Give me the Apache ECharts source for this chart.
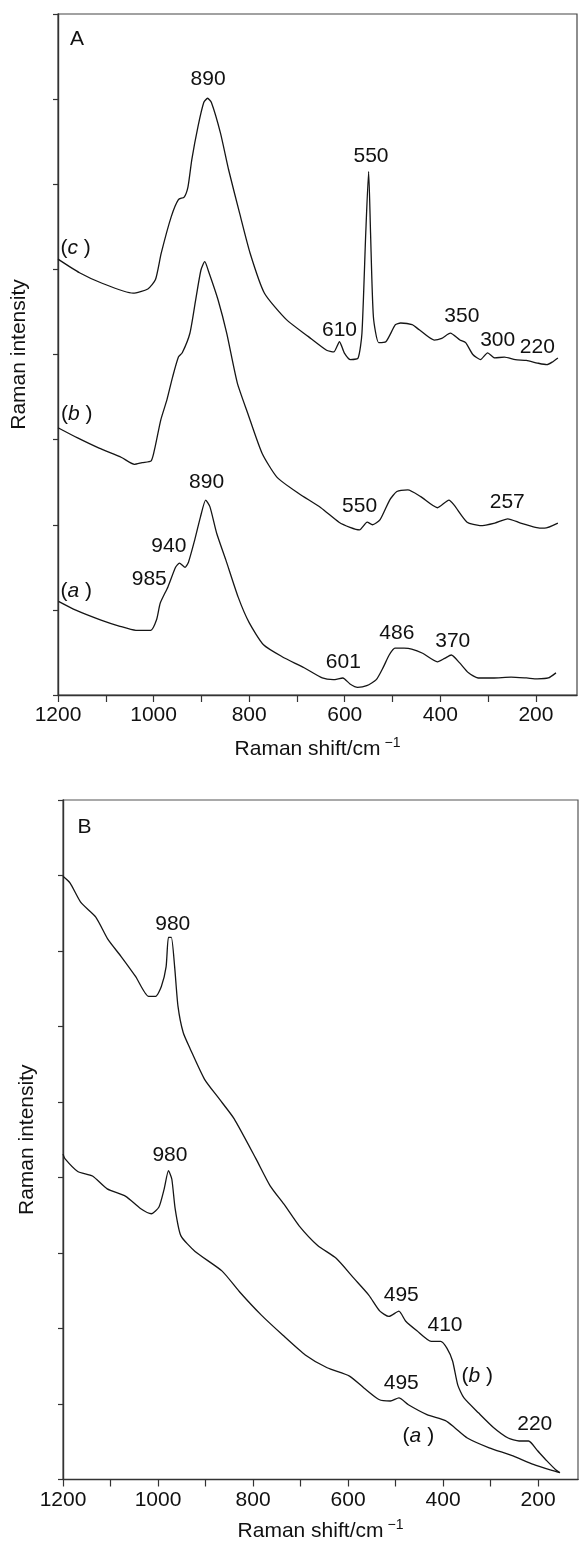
<!DOCTYPE html>
<html>
<head>
<meta charset="utf-8">
<script src="https://cdn.jsdelivr.net/npm/echarts@6.0.0/dist/echarts.min.js"></script>
</head>
<body style="margin:0; padding:0; background:#fff;">
<div id="chart" style="width:581px; height:1543px;"></div>
<script>
// ---- panel A : spectra (a), (b), (c)  [wavenumber, intensity] ----
const specAa = [[1199,1.10],[1164,1.00],[1110,0.88],[1072,0.81],[1037,0.76],[1006,0.76],[994,0.88],[986,1.08],[970,1.27],[954,1.50],[946,1.55],[934,1.50],[927,1.56],[914,1.82],[902,2.09],[891,2.29],[882,2.21],[868,1.90],[849,1.59],[823,1.15],[800,0.85],[770,0.59],[731,0.45],[685,0.32],[647,0.20],[624,0.18],[604,0.20],[589,0.13],[573,0.09],[554,0.11],[534,0.18],[519,0.33],[507,0.47],[495,0.55],[476,0.55],[460,0.54],[437,0.49],[406,0.39],[391,0.43],[377,0.47],[360,0.38],[341,0.26],[321,0.20],[290,0.20],[252,0.21],[220,0.20],[197,0.19],[174,0.20],[158,0.26]];
const specAb = [[1200,3.14],[1159,3.02],[1114,2.90],[1067,2.79],[1040,2.71],[1024,2.73],[1005,2.75],[997,2.91],[985,3.23],[972,3.47],[960,3.74],[948,3.97],[940,4.02],[924,4.25],[912,4.64],[901,4.99],[893,5.09],[884,4.96],[865,4.64],[847,4.25],[825,3.67],[803,3.31],[773,2.84],[742,2.56],[697,2.37],[650,2.20],[612,2.03],[589,1.97],[569,1.94],[553,2.03],[542,2.00],[526,2.06],[506,2.29],[491,2.39],[468,2.41],[441,2.33],[406,2.20],[382,2.29],[371,2.23],[344,2.03],[317,1.99],[286,2.02],[259,2.07],[232,2.02],[201,1.97],[182,1.96],[154,2.02]];
const specAc = [[1200,5.12],[1155,4.96],[1109,4.84],[1043,4.72],[1012,4.77],[996,4.88],[984,5.19],[963,5.62],[948,5.82],[936,5.85],[928,5.97],[920,6.29],[907,6.68],[895,6.96],[887,7.01],[879,6.96],[860,6.60],[843,6.17],[820,5.66],[798,5.19],[768,4.72],[722,4.41],[676,4.21],[638,4.05],[623,4.03],[611,4.15],[601,4.02],[588,3.94],[572,3.96],[564,4.25],[556,5.43],[550,6.15],[546,5.43],[540,4.44],[529,4.14],[514,4.15],[494,4.35],[483,4.37],[459,4.35],[444,4.29],[413,4.17],[397,4.19],[379,4.25],[359,4.17],[347,4.14],[332,4.00],[316,3.94],[301,4.02],[286,3.96],[266,3.97],[243,3.94],[220,3.93],[197,3.90],[177,3.88],[166,3.91],[154,3.96]];

// ---- panel B : spectra (a), (b) ----
const specBa = [[1200,4.31],[1196,4.25],[1169,4.08],[1138,4.02],[1107,3.85],[1068,3.75],[1037,3.59],[1014,3.52],[998,3.61],[987,3.85],[978,4.09],[971,3.98],[964,3.59],[952,3.23],[922,3.02],[865,2.76],[829,2.49],[783,2.18],[737,1.91],[690,1.65],[644,1.48],[597,1.37],[566,1.21],[535,1.06],[511,1.04],[493,1.08],[473,0.99],[434,0.86],[395,0.78],[376,0.69],[349,0.55],[303,0.42],[256,0.32],[210,0.20],[171,0.12],[154,0.09]];
const specBb = [[1200,7.99],[1185,7.90],[1162,7.64],[1131,7.45],[1105,7.15],[1078,6.93],[1047,6.66],[1020,6.40],[1005,6.40],[993,6.53],[983,6.79],[978,7.18],[972,7.18],[965,6.79],[958,6.27],[947,5.92],[932,5.70],[902,5.30],[871,5.04],[840,4.78],[794,4.25],[764,3.89],[733,3.63],[703,3.36],[664,3.10],[625,2.93],[587,2.66],[556,2.44],[533,2.23],[514,2.16],[493,2.23],[479,2.10],[455,1.97],[425,1.83],[405,1.83],[392,1.74],[380,1.57],[369,1.25],[356,1.08],[325,0.88],[294,0.69],[263,0.55],[240,0.51],[220,0.51],[201,0.38],[182,0.25],[163,0.13],[154,0.09]];

// ---- peak labels [wavenumber, intensity, text] ----
const notesA = [[1160,7.70,'A'],[886,7.23,'890'],[545,6.33,'550'],[1163,5.25,'(c)'],[611,4.29,'610'],[355,4.45,'350'],[280,4.17,'300'],[197,4.08,'220'],
  [1161,3.30,'(b)'],[889,2.50,'890'],[569,2.22,'550'],[260,2.27,'257'],[968,1.75,'940'],[1009,1.36,'985'],[1162,1.22,'(a)'],[491,0.73,'486'],[374,0.63,'370'],[603,0.38,'601']];
const notesB = [[1155,8.64,'B'],[969,7.36,'980'],[975,4.29,'980'],[488,2.44,'495'],[396,2.04,'410'],[328,1.37,'(b)'],[488,1.27,'495'],[452,0.58,'(a)'],[207,0.73,'220']];

// ---- axis ticks ----
const xTicks = [200,300,400,500,600,700,800,900,1000,1100,1200];
const xLabels = [200,400,600,800,1000,1200];

const FONT = '"Liberation Sans", Arial, Helvetica, sans-serif';
const INK = '#111';

function xAxisFor(grid, min, gap) {
  return {
    gridIndex: grid, type: 'value', inverse: true, min: min, max: 1200,
    axisLine: { show: true, lineStyle: { color: '#333', width: 1.4 } },
    axisTick: { show: true, customValues: xTicks, length: 7, lineStyle: { color: '#333', width: 1.2 } },
    axisLabel: { customValues: xLabels, formatter: v => String(v), fontSize: 21, color: INK, fontFamily: FONT, margin: 10 },
    splitLine: { show: false },
    name: 'Raman shift/cm{s|−1}', nameLocation: 'middle', nameGap: gap,
    nameTextStyle: { fontSize: 21, color: INK, fontFamily: FONT,
      rich: { s: { fontSize: 14, color: INK, fontFamily: FONT, padding: [0, 0, 12, 4] } } }
  };
}
function yAxisFor(grid, max, gap) {
  return {
    gridIndex: grid, type: 'value', min: 0, max: max, interval: 1,
    axisLine: { show: true, lineStyle: { color: '#333', width: 1.4 } },
    axisTick: { show: true, length: 5, lineStyle: { color: '#333', width: 1.2 } },
    axisLabel: { show: false }, splitLine: { show: false },
    name: 'Raman intensity', nameLocation: 'middle', nameGap: gap,
    nameTextStyle: { fontSize: 21, color: INK, fontFamily: FONT }
  };
}
function lineFor(data, idx) {
  return { type: 'line', data: data, xAxisIndex: idx, yAxisIndex: idx, symbol: 'none',
    smooth: 0.2, lineStyle: { color: '#151515', width: 1.3 }, silent: true, animation: false };
}
function notesFor(list, idx) {
  return {
    type: 'scatter', xAxisIndex: idx, yAxisIndex: idx, symbolSize: 0, silent: true, animation: false,
    itemStyle: { color: INK },
    data: list.map(n => ({ value: [n[0], n[1]], name: n[2] })),
    label: {
      show: true, position: 'inside', fontSize: 21, color: INK, fontFamily: FONT,
      textBorderWidth: 0, opacity: 1,
      formatter: p => p.name.replace(/^\((\w)\)$/, '({i|$1} )'),
      rich: { i: { fontStyle: 'italic', fontSize: 21, color: INK, fontFamily: FONT, textBorderWidth: 0 } }
    }
  };
}

const option = {
  backgroundColor: '#fff',
  animation: false,
  grid: [
    { left: 58, right: 4, top: 14, height: 681, show: true, borderColor: '#444', borderWidth: 1.2 },
    { left: 63, right: 3, top: 800, height: 682, show: true, borderColor: '#555', borderWidth: 1.2 }
  ],
  xAxis: [xAxisFor(0, 114, 41), xAxisFor(1, 116, 39)],
  yAxis: [yAxisFor(0, 8, 28), yAxisFor(1, 9, 25)],
  series: [
    lineFor(specAa, 0), lineFor(specAb, 0), lineFor(specAc, 0),
    lineFor(specBa, 1), lineFor(specBb, 1),
    notesFor(notesA, 0), notesFor(notesB, 1)
  ]
};

var myChart = echarts.init(document.getElementById('chart'));
myChart.setOption(option);
</script>
</body>
</html>
